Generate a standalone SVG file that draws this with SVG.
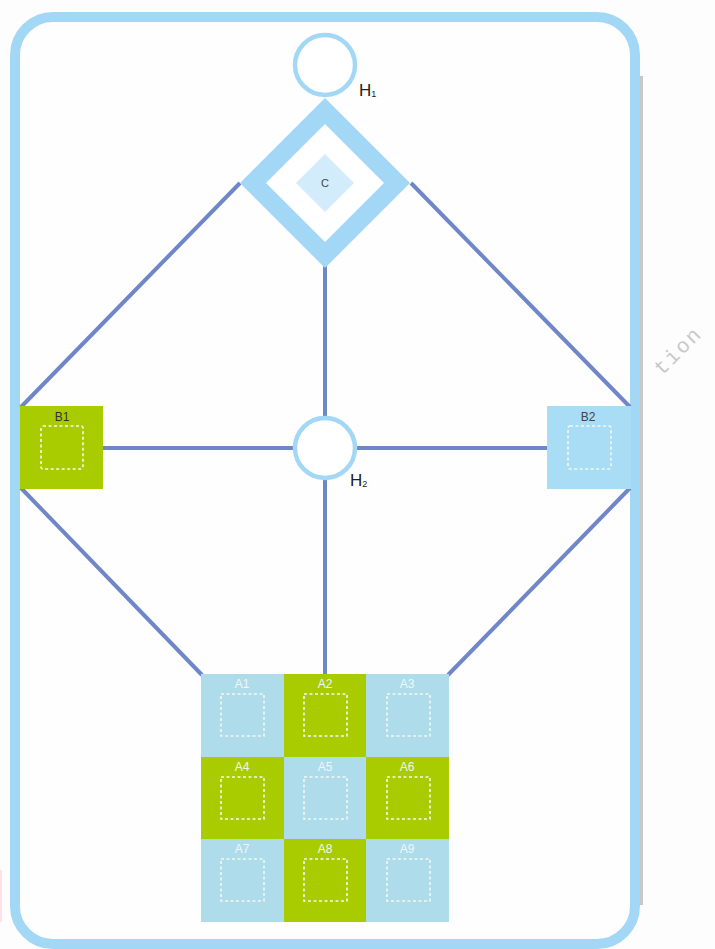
<svg xmlns="http://www.w3.org/2000/svg" width="715" height="949" viewBox="0 0 715 949">
<style>
.conn{stroke:#6f86c9;stroke-width:4;fill:none;stroke-linecap:butt}
.ring{fill:#fff;stroke:#a2d8f5;stroke-width:4.5}
.green{fill:#a9cc00}
.blue{fill:#aedcea}
.dash{fill:none;stroke:#f4f8f0;stroke-width:1.6;stroke-dasharray:3 2.5}
.lbl{font-family:"Liberation Sans",Arial,sans-serif;font-size:12px;text-anchor:middle}
.glbl{fill:#eef7fb}
.hl{font-family:"Liberation Sans",Arial,sans-serif;font-size:17px;fill:#222}
.sub{font-size:9px}
</style>
<rect x="0" y="0" width="715" height="949" fill="#fdfdfd"/>
<rect x="0" y="870" width="2" height="52" fill="#fde3e8"/>
<line x1="641.5" y1="76" x2="641.5" y2="905" stroke="#c8c8c8" stroke-width="3"/>
<text x="662" y="376" transform="rotate(-45 662 376)" font-family="'Liberation Mono',monospace" font-size="21" letter-spacing="2" fill="#c9c9c9">tion</text>
<g id="frame">
<rect x="15" y="17" width="620" height="927" rx="38" ry="38" fill="#fefefe" stroke="#a2d8f5" stroke-width="10"/>
</g>
<g id="connectors">
<line class="conn" x1="240" y1="183" x2="21" y2="407"/>
<line class="conn" x1="411" y1="183" x2="630" y2="407"/>
<line class="conn" x1="325" y1="266" x2="325" y2="418"/>
<line class="conn" x1="103" y1="448" x2="294" y2="448"/>
<line class="conn" x1="356" y1="448" x2="548" y2="448"/>
<line class="conn" x1="325" y1="479" x2="325" y2="675"/>
<line class="conn" x1="21" y1="488" x2="202" y2="675"/>
<line class="conn" x1="630" y1="488" x2="448" y2="675"/>
</g>
<g id="H1">
<circle class="ring" cx="325" cy="65" r="30"/>
<text class="hl" x="359" y="96">H<tspan class="sub" dy="1">1</tspan></text>
</g>
<g id="C">
<polygon points="325,98 410,183 325,268 240,183" fill="#a2d8f5"/>
<polygon points="325,124 384,183 325,242 266,183" fill="#fff"/>
<polygon points="325,154 354,183 325,212 296,183" fill="#d3ecfb"/>
<text x="325" y="187" font-family="'Liberation Sans',Arial,sans-serif" font-size="11" text-anchor="middle" fill="#444">C</text>
</g>
<g id="H2">
<circle class="ring" cx="325" cy="448" r="30"/>
<text class="hl" x="350" y="486">H<tspan class="sub" dy="1">2</tspan></text>
</g>
<g id="B1">
<rect class="green" x="20" y="406" width="83" height="83"/>
<text class="lbl" x="62" y="421" fill="#333">B1</text>
<rect class="dash" x="41" y="426" width="42" height="43" rx="2"/>
</g>
<g id="B2">
<rect x="547" y="406" width="84" height="83" fill="#a9dcf5"/>
<text class="lbl" x="588" y="421" fill="#444">B2</text>
<rect class="dash" x="568" y="426" width="43" height="43" rx="2"/>
</g>
<g id="A1"><rect class="blue" x="201" y="674" width="83" height="83"/><text class="lbl glbl" x="242" y="688">A1</text><rect class="dash" x="221" y="694" width="43" height="42"/></g>
<g id="A2"><rect class="green" x="284" y="674" width="82" height="83"/><text class="lbl glbl" x="325" y="688">A2</text><rect class="dash" x="304" y="694" width="43" height="42"/></g>
<g id="A3"><rect class="blue" x="366" y="674" width="83" height="83"/><text class="lbl glbl" x="407" y="688">A3</text><rect class="dash" x="387" y="694" width="43" height="42"/></g>
<g id="A4"><rect class="green" x="201" y="757" width="83" height="82"/><text class="lbl glbl" x="242" y="771">A4</text><rect class="dash" x="221" y="777" width="43" height="42"/></g>
<g id="A5"><rect class="blue" x="284" y="757" width="82" height="82"/><text class="lbl glbl" x="325" y="771">A5</text><rect class="dash" x="304" y="777" width="43" height="42"/></g>
<g id="A6"><rect class="green" x="366" y="757" width="83" height="82"/><text class="lbl glbl" x="407" y="771">A6</text><rect class="dash" x="387" y="777" width="43" height="42"/></g>
<g id="A7"><rect class="blue" x="201" y="839" width="83" height="83"/><text class="lbl glbl" x="242" y="853">A7</text><rect class="dash" x="221" y="859" width="43" height="42"/></g>
<g id="A8"><rect class="green" x="284" y="839" width="82" height="83"/><text class="lbl glbl" x="325" y="853">A8</text><rect class="dash" x="304" y="859" width="43" height="42"/></g>
<g id="A9"><rect class="blue" x="366" y="839" width="83" height="83"/><text class="lbl glbl" x="407" y="853">A9</text><rect class="dash" x="387" y="859" width="43" height="42"/></g>
</svg>
